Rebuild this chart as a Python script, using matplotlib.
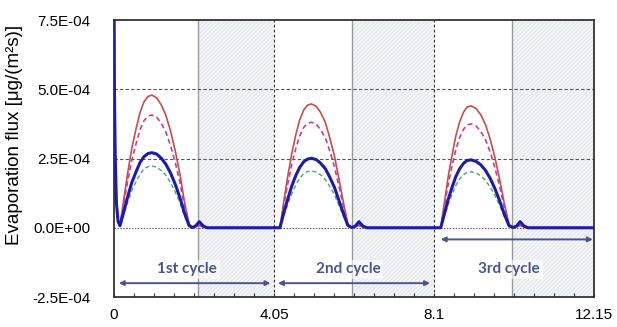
import numpy as np
import matplotlib
matplotlib.use("Agg")
import matplotlib.pyplot as plt
from matplotlib.ticker import FixedLocator, FormatStrFormatter

plt.rcParams['font.family'] = ['Liberation Sans', 'DejaVu Sans']
plt.rcParams['hatch.linewidth'] = 0.5

# time axis [h] - three wet/dry cycles of 4.05 h
t = [0, 0.01, 0.03, 0.06, 0.10,
     0.15, 0.25, 0.35, 0.45, 0.56, 0.66, 0.76, 0.86, 0.96,
     1.08, 1.19, 1.31, 1.43, 1.55, 1.67, 1.78, 1.90,
     1.98, 2.06, 2.16, 2.26, 2.36, 3.00, 4.05,
     4.20, 4.30, 4.40, 4.50, 4.60, 4.70, 4.80, 4.90, 5.00,
     5.12, 5.23, 5.35, 5.46, 5.58, 5.69, 5.81, 5.92,
     6.02, 6.11, 6.20, 6.30, 6.40, 7.00, 8.10,
     8.27, 8.37, 8.46, 8.56, 8.65, 8.75, 8.85, 8.94, 9.04,
     9.16, 9.28, 9.40, 9.52, 9.64, 9.76, 9.88, 10.00,
     10.10, 10.19, 10.28, 10.38, 10.48, 11.00, 12.15]

# evaporation flux, x1e-4 ug/(m2 s)
flux_red = [9.0, 5.2, 2.8, 1.0, 0.30,
            0.08, 1.05, 2.01, 2.87, 3.59, 4.17, 4.55, 4.74, 4.79,
            4.69, 4.45, 4.07, 3.50, 2.78, 1.92, 0.96, 0.14,
            0.00, 0.04, 0.08, 0.03, 0.00, 0.00, 0.00,
            0.00, 0.98, 1.88, 2.68, 3.35, 3.89, 4.25, 4.43, 4.47,
            4.38, 4.16, 3.80, 3.26, 2.59, 1.79, 0.89, 0.13,
            0.00, 0.04, 0.08, 0.03, 0.00, 0.00, 0.00,
            0.00, 0.97, 1.85, 2.64, 3.30, 3.83, 4.18, 4.36, 4.40,
            4.31, 4.09, 3.74, 3.21, 2.55, 1.76, 0.88, 0.13,
            0.00, 0.04, 0.08, 0.03, 0.00, 0.00, 0.00]

flux_mag = [9.0, 5.1, 2.7, 0.95, 0.28,
            0.08, 0.90, 1.71, 2.44, 3.05, 3.54, 3.87, 4.03, 4.07,
            3.99, 3.79, 3.46, 2.97, 2.36, 1.63, 0.81, 0.12,
            0.00, 0.05, 0.10, 0.03, 0.00, 0.00, 0.00,
            0.00, 0.84, 1.60, 2.29, 2.86, 3.31, 3.62, 3.77, 3.81,
            3.73, 3.54, 3.24, 2.78, 2.21, 1.52, 0.76, 0.11,
            0.00, 0.05, 0.10, 0.03, 0.00, 0.00, 0.00,
            0.00, 0.83, 1.58, 2.25, 2.81, 3.26, 3.56, 3.71, 3.75,
            3.68, 3.49, 3.19, 2.74, 2.18, 1.50, 0.75, 0.11,
            0.00, 0.05, 0.10, 0.03, 0.00, 0.00, 0.00]

flux_blue = [9.0, 5.0, 2.6, 0.90, 0.25,
             0.07, 0.60, 1.14, 1.63, 2.03, 2.36, 2.57, 2.68, 2.71,
             2.66, 2.52, 2.30, 1.98, 1.57, 1.08, 0.54, 0.08,
             0.01, 0.06, 0.22, 0.06, 0.00, 0.00, 0.00,
             0.00, 0.55, 1.05, 1.51, 1.88, 2.18, 2.38, 2.48, 2.51,
             2.46, 2.33, 2.13, 1.83, 1.46, 1.00, 0.50, 0.08,
             0.01, 0.06, 0.22, 0.06, 0.00, 0.00, 0.00,
             0.00, 0.54, 1.03, 1.47, 1.84, 2.13, 2.33, 2.43, 2.45,
             2.40, 2.28, 2.08, 1.79, 1.42, 0.98, 0.49, 0.07,
             0.01, 0.06, 0.22, 0.06, 0.00, 0.00, 0.00]

flux_green = [9.0, 5.0, 2.5, 0.85, 0.22,
              0.06, 0.49, 0.94, 1.34, 1.67, 1.94, 2.12, 2.21, 2.23,
              2.19, 2.07, 1.90, 1.63, 1.29, 0.89, 0.45, 0.07,
              0.01, 0.06, 0.18, 0.05, 0.00, 0.00, 0.00,
              0.00, 0.45, 0.86, 1.23, 1.54, 1.78, 1.95, 2.03, 2.05,
              2.01, 1.91, 1.74, 1.50, 1.19, 0.82, 0.41, 0.06,
              0.01, 0.06, 0.18, 0.05, 0.00, 0.00, 0.00,
              0.00, 0.44, 0.85, 1.21, 1.52, 1.76, 1.92, 2.00, 2.02,
              1.98, 1.88, 1.72, 1.47, 1.17, 0.81, 0.40, 0.06,
              0.01, 0.06, 0.18, 0.05, 0.00, 0.00, 0.00]

cycle_ends = [4.05, 8.1, 12.15]
dry_starts = [2.12, 6.02, 10.08]
cycle_names = ["1st cycle", "2nd cycle", "3rd cycle"]
xtick_vals = [0, 4.05, 8.1, 12.15]
xtick_labels = ["0", "4.05", "8.1", "12.15"]
ytick_vals = [-2.5e-4, 0.0, 2.5e-4, 5.0e-4, 7.5e-4]

scale = 1e-4
fig = plt.figure(figsize=(6.17, 3.27), dpi=100)
ax = fig.add_axes([0.1848, 0.0917, 0.7779, 0.8471])

# dry periods: hatched grey bands
for x0, x1 in zip(dry_starts, cycle_ends):
    ax.axvspan(x0, x1, facecolor="#f3f4f6", edgecolor="#dcdfe4",
               hatch="////////", lw=0, zorder=0)
    ax.axvline(x0, color="#9a9a9a", lw=1.0, zorder=1)

# grid
for yv in [2.5e-4, 5.0e-4]:
    ax.axhline(yv, color="#555555", lw=0.8, ls=(0, (3, 2)), zorder=1)
ax.axhline(0, color="#555555", lw=0.7, ls=(0, (1.5, 1.5)), zorder=1)
for xv in cycle_ends[:2]:
    ax.axvline(xv, color="#333333", lw=0.8, ls=(0, (2.5, 2)), zorder=1)

tt = np.array(t)
ax.plot(tt, np.array(flux_green) * scale, color="#4aa37c", lw=1.0, ls=(0, (3, 2)), zorder=3)
ax.plot(tt, np.array(flux_red) * scale, color="#c0504d", lw=1.2, zorder=3)
ax.plot(tt, np.array(flux_mag) * scale, color="#c83a9e", lw=1.2, ls=(0, (3, 2)), zorder=3)
ax.plot(tt, np.array(flux_blue) * scale, color="#1c1ca8", lw=2.2, zorder=4)

# cycle arrows and labels
lab_col = "#4a5590"
arrow_spans = [(0.12, 3.96, -2.0e-4), (4.15, 8.0, -2.0e-4), (8.27, 12.12, -0.42e-4)]
label_x = [1.85, 5.93, 10.0]
for (a, b, yv), lx, name in zip(arrow_spans, label_x, cycle_names):
    ax.annotate("", xy=(a, yv), xytext=(b, yv),
                arrowprops=dict(arrowstyle="<|-|>", color=lab_col, lw=1.4,
                                mutation_scale=7, shrinkA=0, shrinkB=0), zorder=5)
    ax.text(lx, -1.5e-4, name, ha="center", va="center", color=lab_col,
            fontsize=11, fontweight="bold", family=["Lato", "DejaVu Sans"],
            bbox=dict(facecolor="white", alpha=0.6, edgecolor="none", pad=2), zorder=5)

ax.set_xlim(0, 12.15)
ax.set_ylim(-2.5e-4, 7.5e-4)
ax.set_xticks(xtick_vals)
ax.set_xticklabels(xtick_labels)
ax.xaxis.set_minor_locator(FixedLocator(np.arange(0, 12.2, 4.05 / 8)))
ax.set_yticks(ytick_vals)
ax.yaxis.set_major_formatter(FormatStrFormatter("%.1E"))
ax.tick_params(axis="x", which="both", direction="in", length=3, width=0.8,
               labelsize=11, pad=8, color="#333333")
ax.tick_params(axis="y", length=0, labelsize=11, pad=17)

for sp in ax.spines.values():
    sp.set_color("#333333")
    sp.set_linewidth(1.3)

ax.set_ylabel("Evaporation flux [μg/(m²s)]", fontsize=13.5)
ax.yaxis.set_label_coords(-0.19, 0.585)

fig.savefig("out.png", dpi=100)
